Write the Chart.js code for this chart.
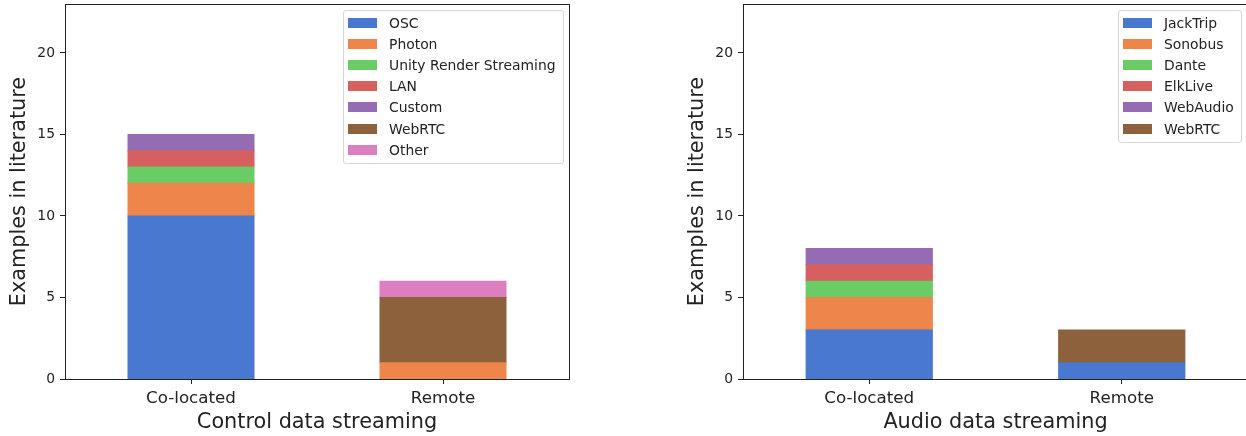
<!DOCTYPE html>
<html lang="en">
<head>
<meta charset="UTF-8">
<title>Data streaming in literature</title>
<script src="https://cdn.jsdelivr.net/npm/chart.js"></script>
<style>
  html, body { margin: 0; padding: 0; background: #fff; overflow: hidden; }
  #page { position: relative; width: 1246px; height: 436px; overflow: hidden; }
  .panel { position: absolute; top: 0; width: 600px; height: 436px; }
  .legend {
    position: absolute;
    top: 10px;
    border: 1px solid #d6d6d6;
    border-radius: 3px;
    background: rgba(255,255,255,0.8);
    padding: 1px 7px 3px 4px;
    font-family: 'DejaVu Sans', sans-serif;
    font-size: 13.9px;
    color: #222;
  }
  .legend .row { display: flex; align-items: center; height: 21.2px; white-space: nowrap; }
  .legend .swatch { width: 29px; height: 10px; margin-right: 12px; }
</style>
</head>
<body>
<div id="page">
  <canvas id="controlChart" class="panel" width="600" height="436" style="left:0px"></canvas>
  <canvas id="audioChart" class="panel" width="600" height="436" style="left:678px"></canvas>
  <div id="controlLegend" class="legend" style="left:343px"></div>
  <div id="audioLegend" class="legend" style="left:1118px"></div>
</div>

<script>
// categories on both x axes
const categories = ['Co-located', 'Remote'];
const yTicks = [0, 5, 10, 15, 20];
const yMax = 23;

// control data streaming (counts per category)
const ctrlOSC = [10, 0];
const ctrlPhoton = [2, 1];
const ctrlUnity = [1, 0];
const ctrlLAN = [1, 0];
const ctrlCustom = [1, 0];
const ctrlWebRTC = [0, 4];
const ctrlOther = [0, 1];

// audio data streaming
const audJackTrip = [3, 1];
const audSonobus = [2, 0];
const audDante = [1, 0];
const audElkLive = [1, 0];
const audWebAudio = [1, 0];
const audWebRTC = [0, 2];

const controlNames = ['OSC', 'Photon', 'Unity Render Streaming', 'LAN', 'Custom', 'WebRTC', 'Other'];
const controlData = [ctrlOSC, ctrlPhoton, ctrlUnity, ctrlLAN, ctrlCustom, ctrlWebRTC, ctrlOther];
const audioNames = ['JackTrip', 'Sonobus', 'Dante', 'ElkLive', 'WebAudio', 'WebRTC'];
const audioData = [audJackTrip, audSonobus, audDante, audElkLive, audWebAudio, audWebRTC];

const palette = ['#4878d0', '#ee854a', '#6acc64', '#d65f5f', '#956cb4', '#8c613c', '#dc7ec0'];
const ink = '#222';
const font = 'DejaVu Sans';

// matplotlib-style box around the axes
const framePlugin = {
  id: 'frame',
  afterDraw(chart) {
    const a = chart.chartArea;
    const ctx = chart.ctx;
    ctx.save();
    ctx.strokeStyle = ink;
    ctx.lineWidth = 1;
    ctx.strokeRect(Math.round(a.left) + 0.5, Math.round(a.top) + 0.5,
      Math.round(a.right - a.left), Math.round(a.bottom - a.top));
    ctx.restore();
  }
};

function makeChart(id, names, data, xTitle, padRight) {
  const datasets = names.map((name, i) => ({
    label: name,
    data: data[i],
    backgroundColor: palette[i],
    borderWidth: 0,
    // close the seams between stacked segments, but keep empty ones invisible
    inflateAmount: c => (c.raw ? 0.5 : 0),
    barPercentage: 0.5,
    categoryPercentage: 1.0
  }));

  return new Chart(document.getElementById(id), {
    type: 'bar',
    data: { labels: categories, datasets: datasets },
    plugins: [framePlugin],
    options: {
      responsive: false,
      animation: false,
      layout: { padding: { top: 4, right: padRight, left: 0, bottom: 0 } },
      plugins: { legend: { display: false }, tooltip: { enabled: false } },
      scales: {
        x: {
          stacked: true,
          offset: true,
          grid: { offset: false, drawOnChartArea: false, drawTicks: true, tickLength: 5, color: ink },
          border: { display: false },
          ticks: { color: ink, padding: 5, maxRotation: 0, font: { family: font, size: 16.7 } },
          title: { display: true, text: xTitle, color: ink, padding: { top: 0, bottom: 0.5 },
                   font: { family: font, size: 20.8 } },
          afterFit(scale) {
            scale.height = 57;
            scale.paddingLeft = 0;
            scale.paddingRight = 0;
          }
        },
        y: {
          stacked: true,
          min: 0,
          max: yMax,
          grid: { drawOnChartArea: false, drawTicks: true, tickLength: 5, color: ink },
          border: { display: false },
          afterBuildTicks(scale) {
            scale.ticks = yTicks.map(v => ({ value: v }));
          },
          ticks: { color: ink, padding: 5, font: { family: font, size: 13.9 } },
          title: { display: true, text: 'Examples in literature', color: ink, padding: { top: 7, bottom: 0 },
                   font: { family: font, size: 20.8 } },
          afterFit(scale) {
            scale.width = 65;
            scale.paddingTop = 0;
            scale.paddingBottom = 0;
          }
        }
      }
    }
  });
}

function buildLegend(id, names) {
  const box = document.getElementById(id);
  names.forEach((name, i) => {
    const row = document.createElement('div');
    row.className = 'row';
    const sw = document.createElement('span');
    sw.className = 'swatch';
    sw.style.background = palette[i];
    const txt = document.createElement('span');
    txt.textContent = name;
    row.appendChild(sw);
    row.appendChild(txt);
    box.appendChild(row);
  });
}

makeChart('controlChart', controlNames, controlData, 'Control data streaming', 31);
makeChart('audioChart', audioNames, audioData, 'Audio data streaming', 30);
buildLegend('controlLegend', controlNames);
buildLegend('audioLegend', audioNames);
</script>
</body>
</html>
